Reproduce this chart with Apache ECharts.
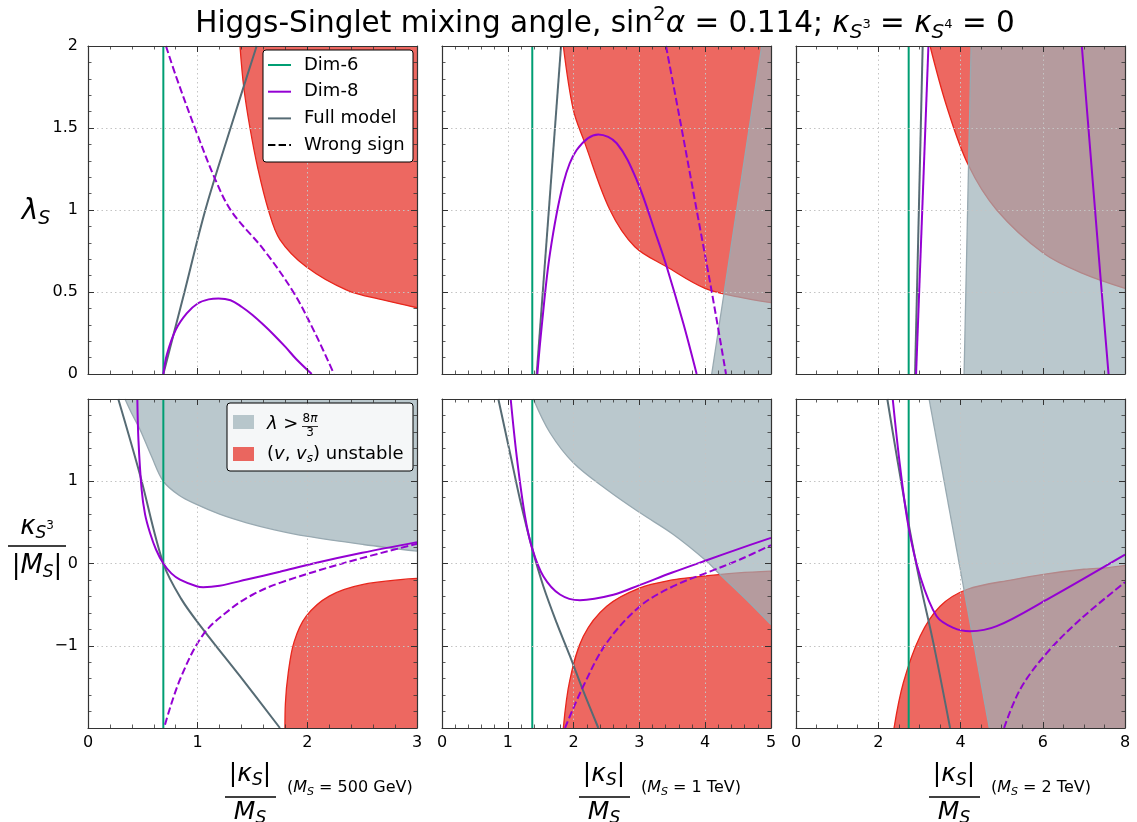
<!DOCTYPE html>
<html><head><meta charset="utf-8">
<script src="https://cdn.jsdelivr.net/npm/echarts@6/dist/echarts.min.js"></script>
<style>html,body{margin:0;padding:0;background:#fff}#c{width:1137px;height:822px}</style>
</head><body><div id="c"></div><script>
// ---------------- DATA ----------------
// x-axis ranges per column: [min, max, interval, minorSplit]
const xRanges = [[0, 3, 1, 5], [0, 5, 1, 5], [0, 8, 2, 4]];
// y-axis ranges per row
const yRanges = [[0, 2, 0.5, 5], [-2, 2, 1, 5]];
const columnMass = ['500 GeV', '1 TeV', '2 TeV'];
// Dim-6 vertical line position per column
const dim6X = [0.687, 1.372, 2.74];

// --- top row (lambda_S) ---
const t1_full = [[0.687,0],[0.88,0.5],[1.07,1.0],[1.30,1.5],[1.538,2]];
const t1_dim8 = [[0.687,0],[0.72,0.12],[0.8,0.27],[0.9,0.37],[1.0,0.43],[1.1,0.455],[1.19,0.461],[1.3,0.45],[1.4,0.41],[1.5,0.36],[1.6,0.30],[1.7,0.235],[1.8,0.165],[1.9,0.09],[2.04,0]];
const t1_dim8Wrong = [[0.711,2],[0.80,1.82],[0.975,1.5],[1.158,1.19],[1.31,0.99],[1.6,0.76],[1.872,0.5],[2.07,0.25],[2.243,0]];
const t1_unstable = [[1.386,2],[1.42,1.75],[1.477,1.5],[1.55,1.25],[1.645,1.0],[1.75,0.82],[1.99,0.654],[2.36,0.512],[2.7,0.45],[3.0,0.404]];

const t2_full = [[1.439,0],[1.809,2]];
const t2_dim8 = [[1.449,0],[1.515,0.289],[1.641,0.736],[1.844,1.163],[2.047,1.366],[2.376,1.461],[2.655,1.407],[2.959,1.183],[3.263,0.837],[3.415,0.654],[3.667,0.309],[3.87,0]];
const t2_dim8Wrong = [[3.404,2],[3.64,1.5],[3.87,1.0],[4.10,0.5],[4.316,0]];
const t2_unstable = [[1.844,2],[1.996,1.61],[2.163,1.417],[2.553,1.0],[2.93,0.776],[3.415,0.654],[3.997,0.522],[4.5,0.47],[5.0,0.435]];
const t2_pert = [[4.099,0],[4.858,2]];

const t3_full = [[2.895,0],[3.08,2]];
const t3_dim8a = [[2.92,0],[3.22,2]];
const t3_dim8b = [[6.95,2],[7.41,0.573],[7.60,0]];
const t3_unstable = [[3.26,2],[3.667,1.63],[4.19,1.274],[4.88,1.0],[6.02,0.736],[7.0,0.61],[8.0,0.522]];
const t3_pert = [[4.087,0],[4.258,2]];

// --- bottom row (kappa_S3 / |M_S|) ---
const b1_pert = [[0.337,2],[0.40,1.82],[0.474,1.63],[0.58,1.3],[0.687,1.0],[0.83,0.83],[0.99,0.718],[1.2,0.6],[1.447,0.495],[1.7,0.41],[1.99,0.332],[2.51,0.231],[3.0,0.15]];
const b1_unstable = [[1.796,-2],[1.80,-1.7],[1.826,-1.33],[1.88,-0.95],[1.99,-0.641],[2.2,-0.397],[2.51,-0.255],[3.0,-0.182]];
const b1_full = [[0.276,2],[0.474,1.08],[0.687,0],[0.85,-0.43],[1.051,-0.803],[1.386,-1.37],[1.75,-2]];
const b1_dim8 = [[0.45,2],[0.46,1.5],[0.489,0.9],[0.52,0.6],[0.565,0.373],[0.62,0.17],[0.687,0],[0.76,-0.12],[0.839,-0.195],[0.99,-0.276],[1.05,-0.288],[1.2,-0.27],[1.447,-0.195],[1.75,-0.1],[2.054,0],[2.5,0.13],[3.0,0.26]];
const b1_dim8Wrong = [[0.702,-1.96],[0.839,-1.41],[1.05,-0.864],[1.294,-0.56],[1.5,-0.38],[1.75,-0.235],[2.34,0.008],[3.0,0.24]];

const b2_pert = [[1.388,2],[1.641,1.59],[1.996,1.225],[2.503,0.9],[3.01,0.616],[3.516,0.353],[4.022,0.028],[4.225,-0.134],[4.6,-0.42],[5.0,-0.742]];
const b2_unstable = [[1.844,-2],[1.945,-1.41],[2.148,-0.884],[2.503,-0.519],[3.01,-0.296],[3.5,-0.2],[3.87,-0.162],[4.5,-0.115],[5.0,-0.093]];
const b2_full = [[0.856,2],[1.033,1.346],[1.185,0.779],[1.372,0.178],[1.54,-0.276],[1.743,-0.722],[1.945,-1.127],[2.148,-1.553],[2.376,-2]];
const b2_dim8 = [[1.044,2],[1.135,1.306],[1.261,0.576],[1.372,0.178],[1.54,-0.154],[1.793,-0.377],[2.097,-0.446],[2.604,-0.38],[3.01,-0.26],[3.5,-0.11],[4.022,0.04],[4.5,0.175],[5.0,0.312]];
const b2_dim8Wrong = [[1.869,-2],[2.148,-1.49],[2.503,-0.965],[3.01,-0.519],[3.516,-0.276],[4.022,-0.113],[4.529,0.049],[5.0,0.223]];

const b3_pert = [[3.236,2],[4.70,-2]];
const b3_unstable = [[2.384,-2],[2.61,-1.45],[3.017,-0.884],[3.504,-0.519],[4.153,-0.316],[5.29,-0.195],[6.1,-0.126],[7.0,-0.07],[7.6,-0.05],[8.0,-0.024]];
const b3_full = [[2.22,2],[2.45,1.306],[2.733,0.495],[3.017,-0.235],[3.34,-0.965],[3.747,-2]];
const b3_dim8 = [[2.352,2],[2.53,1.184],[2.733,0.454],[3.017,-0.154],[3.42,-0.641],[3.83,-0.783],[4.23,-0.823],[4.88,-0.762],[6.1,-0.438],[8.0,0.109]];
const b3_dim8Wrong = [[5.06,-2],[5.45,-1.53],[6.1,-1.087],[6.91,-0.681],[8.0,-0.227]];

// ---------------- STYLE ----------------
const C_DIM6 = '#009e73', C_DIM8 = '#9400d3', C_FULL = '#566b74';
const C_RED = 'rgba(230,40,30,0.7)', C_RED_EDGE = '#e8261c';
const C_GRAY = 'rgba(157,176,184,0.7)', C_GRAY_EDGE = '#98a9b1';
const FONT = 'DejaVu Sans';
const DASH = [7.4, 3.2];
const SMOOTH = 0.35;

const COL_LEFT = [88, 442, 796], PW = 329;
const ROW = [[46, 328], [399, 329]];

const grid = [], xAxis = [], yAxis = [];
const minus = v => String(v).replace('-', '\u2212');
function axisCommon(pos, split) {
  return {
    type: 'value', position: pos, z: 10,
    axisLine: {show: true, onZero: false, lineStyle: {color: '#333', width: 1.2}},
    axisTick: {show: true, inside: true, length: 6, lineStyle: {color: '#333', width: 1}},
    minorTick: {show: true, splitNumber: split, length: 3.5, lineStyle: {color: '#333', width: 0.8}},
  };
}
for (let r = 0; r < 2; r++) for (let c = 0; c < 3; c++) {
  grid.push({left: COL_LEFT[c], top: ROW[r][0], width: PW, height: ROW[r][1]});
}
for (let gi = 0; gi < 6; gi++) {
  const r = Math.floor(gi / 3), c = gi % 3;
  const xr = xRanges[c], yr = yRanges[r];
  xAxis.push(Object.assign(axisCommon('bottom', xr[3]), {
    gridIndex: gi, min: xr[0], max: xr[1], interval: xr[2],
    splitLine: {show: true, lineStyle: {type: [1.5, 3], color: '#c4c4c4', width: 1}},
    axisLabel: {show: r === 1, fontSize: 16, fontFamily: FONT, color: '#000', margin: 7, formatter: minus}
  }));
  yAxis.push(Object.assign(axisCommon('left', yr[3]), {
    gridIndex: gi, min: yr[0], max: yr[1], interval: yr[2],
    splitLine: {show: true, lineStyle: {type: [1.5, 3], color: '#c4c4c4', width: 1}},
    axisLabel: {show: c === 0, fontSize: 16, fontFamily: FONT, color: '#000', margin: 10,
      formatter: v => (r === 1 && Math.abs(v) === 2) ? '' : minus(v)}
  }));
}
for (let gi = 0; gi < 6; gi++) {
  const r = Math.floor(gi / 3), c = gi % 3;
  const xr = xRanges[c], yr = yRanges[r];
  xAxis.push(Object.assign(axisCommon('top', xr[3]), {
    gridIndex: gi, min: xr[0], max: xr[1], interval: xr[2], splitLine: {show: false}, axisLabel: {show: false}
  }));
  yAxis.push(Object.assign(axisCommon('right', yr[3]), {
    gridIndex: gi, min: yr[0], max: yr[1], interval: yr[2], splitLine: {show: false}, axisLabel: {show: false}
  }));
}

function lineS(name, data, gi, color, opt) {
  opt = opt || {};
  return {type: 'line', name, data, xAxisIndex: gi, yAxisIndex: gi, symbol: 'none', showSymbol: false,
    smooth: opt.smooth === undefined ? SMOOTH : opt.smooth, clip: true, silent: true, animation: false,
    lineStyle: {color, width: opt.width || 2, type: opt.dashed ? DASH : 'solid'}, z: opt.z || 5};
}
function areaS(name, data, gi, fill, origin, smooth, z) {
  return {type: 'line', name, data, xAxisIndex: gi, yAxisIndex: gi, symbol: 'none', showSymbol: false,
    smooth, clip: true, silent: true, animation: false, z,
    lineStyle: {width: 0, opacity: 0},
    areaStyle: {color: fill, opacity: 1, origin}};
}
const series = [];
// regions: [grid, unstable boundary, origin, pert boundary, extra pert points, origin, pert smooth]
const regions = [
  [0, t1_unstable, 'end', null],
  [1, t2_unstable, 'end', t2_pert, [[5, 2]], 'start', false],
  [2, t3_unstable, 'end', t3_pert, [[8, 2]], 'start', false],
  [3, b1_unstable, 'start', b1_pert, [], 'end', SMOOTH],
  [4, b2_unstable, 'start', b2_pert, [], 'end', SMOOTH],
  [5, b3_unstable, 'start', b3_pert, [[8, -2]], 'end', false],
];
regions.forEach(([gi, ub, uo, pb, pext, po, ps]) => {
  series.push(areaS('(v, v_s) unstable', ub, gi, C_RED, uo, SMOOTH, 1));
  series.push(lineS('unstable edge', ub, gi, C_RED_EDGE, {width: 1.3, z: 1}));
  if (pb) {
    series.push(areaS('λ > 8π/3', pb.concat(pext), gi, C_GRAY, po, ps, 2));
    series.push(lineS('pert edge', pb, gi, C_GRAY_EDGE, {width: 1.3, z: 2, smooth: ps}));
  }
});
for (let gi = 0; gi < 6; gi++) {
  const r = Math.floor(gi / 3), c = gi % 3;
  series.push(lineS('Dim-6', [[dim6X[c], yRanges[r][0]], [dim6X[c], yRanges[r][1]]], gi, C_DIM6, {smooth: false}));
}
const fulls = [t1_full, t2_full, t3_full, b1_full, b2_full, b3_full];
fulls.forEach((d, gi) => series.push(lineS('Full model', d, gi, C_FULL)));
const dim8s = [[t1_dim8], [t2_dim8], [t3_dim8a, t3_dim8b], [b1_dim8], [b2_dim8], [b3_dim8]];
dim8s.forEach((arr, gi) => arr.forEach(d => series.push(lineS('Dim-8', d, gi, C_DIM8, {z: 6}))));
const wrongs = [[0, t1_dim8Wrong], [1, t2_dim8Wrong], [3, b1_dim8Wrong], [4, b2_dim8Wrong], [5, b3_dim8Wrong]];
wrongs.forEach(([gi, d]) => series.push(lineS('Dim-8 (wrong sign)', d, gi, C_DIM8, {dashed: true, z: 6})));

// ---------------- TEXT / LEGENDS (graphic) ----------------
function txt(x, y, text, size, rich, align, extra) {
  return {type: 'text', x, y, z: 50, silent: true, style: Object.assign({
    text, fontSize: size, fontFamily: FONT, fill: '#000',
    align: align || 'left', textAlign: align || 'left', verticalAlign: 'middle', textVerticalAlign: 'middle',
    rich: rich || {}
  }, extra || {})};
}
function hline(x1, x2, y, w, color) {
  return {type: 'line', z: 50, silent: true, shape: {x1, y1: y, x2, y2: y}, style: {stroke: color || '#000', lineWidth: w || 1.2}};
}
const graphic = [];
// title
graphic.push(txt(605, 24,
  'Higgs-Singlet mixing angle, sin{sup|2}{i|α} = 0.114; {i|κ}{sub|S}{ssup|3} = {i|κ}{sub|S}{ssup|4} = 0', 29.5, {
    i: {fontStyle: 'italic', fontSize: 29.5, fontFamily: FONT, lineHeight: 38},
    sup: {fontSize: 20, fontFamily: FONT, verticalAlign: 'top', lineHeight: 23},
    sub: {fontSize: 20, fontStyle: 'italic', fontFamily: FONT, verticalAlign: 'bottom', lineHeight: 23},
    ssup: {fontSize: 13, fontFamily: FONT, verticalAlign: 'bottom', lineHeight: 15, padding: [0, 0, 12, 0]}
  }, 'center', {lineHeight: 38}));
// y labels
graphic.push(txt(36, 212, '{i|λ}{sub|S}', 28, {
  i: {fontStyle: 'italic', fontSize: 28, fontFamily: FONT, lineHeight: 34},
  sub: {fontSize: 19, fontStyle: 'italic', fontFamily: FONT, verticalAlign: 'bottom', lineHeight: 22}
}, 'center', {lineHeight: 34}));
graphic.push(txt(37, 527, '{i|κ}{sub|S}{ssup|3}', 26, {
  i: {fontStyle: 'italic', fontSize: 26, fontFamily: FONT, lineHeight: 30},
  sub: {fontSize: 17, fontStyle: 'italic', fontFamily: FONT, verticalAlign: 'bottom', lineHeight: 19},
  ssup: {fontSize: 12, fontFamily: FONT, verticalAlign: 'bottom', lineHeight: 13, padding: [0, 0, 10, 0]}
}, 'center', {lineHeight: 30}));
graphic.push(hline(8, 66, 546, 1.3));
graphic.push(txt(37, 566, '|{i|M}{sub|S}|', 26, {
  i: {fontStyle: 'italic', fontSize: 26, fontFamily: FONT, lineHeight: 30},
  sub: {fontSize: 17, fontStyle: 'italic', fontFamily: FONT, verticalAlign: 'bottom', lineHeight: 19}
}, 'center', {lineHeight: 30}));
// x labels
const fracCenters = [250, 604, 954];
fracCenters.forEach((cx, c) => {
  graphic.push(txt(cx, 774, '|{i|κ}{sub|S}|', 25, {
    i: {fontStyle: 'italic', fontSize: 25, fontFamily: FONT, lineHeight: 30},
    sub: {fontSize: 17, fontStyle: 'italic', fontFamily: FONT, verticalAlign: 'bottom', lineHeight: 19}
  }, 'center', {lineHeight: 30}));
  graphic.push(hline(cx - 25, cx + 26, 797, 1.3));
  graphic.push(txt(cx, 812, '{i|M}{sub|S}', 25, {
    i: {fontStyle: 'italic', fontSize: 25, fontFamily: FONT, lineHeight: 30},
    sub: {fontSize: 17, fontStyle: 'italic', fontFamily: FONT, verticalAlign: 'bottom', lineHeight: 19}
  }, 'center', {lineHeight: 30}));
  graphic.push(txt(cx + 37, 788, '({i|M}{sub|S} = ' + columnMass[c] + ')', 16, {
    i: {fontStyle: 'italic', fontSize: 16, fontFamily: FONT, lineHeight: 20},
    sub: {fontSize: 11, fontStyle: 'italic', fontFamily: FONT, verticalAlign: 'bottom', lineHeight: 12}
  }, 'left', {lineHeight: 20}));
});
// legend 1 (top-left panel)
graphic.push({type: 'rect', z: 40, silent: true, shape: {x: 263, y: 50, width: 150, height: 112, r: 3},
  style: {fill: '#fff', stroke: '#000', lineWidth: 1}});
const leg1 = [['Dim-6', C_DIM6, false], ['Dim-8', C_DIM8, false], ['Full model', C_FULL, false], ['Wrong sign', '#000', true]];
leg1.forEach(([name, col, dash], k) => {
  const y = 65 + k * 26.7;
  graphic.push({type: 'line', z: 50, silent: true, shape: {x1: 268, y1: y, x2: 291, y2: y},
    style: {stroke: col, lineWidth: 2, lineDash: dash ? DASH : null}});
  graphic.push(txt(304, y, name, 18));
});
// legend 2 (bottom-left panel)
graphic.push({type: 'rect', z: 40, silent: true, shape: {x: 227, y: 403, width: 186, height: 68, r: 3},
  style: {fill: 'rgba(255,255,255,0.85)', stroke: '#000', lineWidth: 1}});
graphic.push({type: 'rect', z: 50, silent: true, shape: {x: 233, y: 415, width: 21, height: 14}, style: {fill: C_GRAY}});
graphic.push({type: 'rect', z: 50, silent: true, shape: {x: 233, y: 447, width: 21, height: 14}, style: {fill: C_RED}});
graphic.push(txt(267, 424, '{i|λ} >', 18, {i: {fontStyle: 'italic', fontSize: 18, fontFamily: FONT}}));
graphic.push(txt(310, 419, '8{i|π}', 12, {i: {fontStyle: 'italic', fontSize: 12, fontFamily: FONT}}, 'center'));
graphic.push(hline(302, 318, 426.5, 0.8));
graphic.push(txt(310, 433, '3', 12, null, 'center'));
graphic.push(txt(267, 454, '({i|v}, {i|v}{sub|s}) unstable', 18, {
  i: {fontStyle: 'italic', fontSize: 18, fontFamily: FONT, lineHeight: 22},
  sub: {fontSize: 12, fontStyle: 'italic', fontFamily: FONT, verticalAlign: 'bottom', lineHeight: 14}
}, 'left', {lineHeight: 22}));

const chart = echarts.init(document.getElementById('c'), null, {renderer: 'canvas'});
chart.setOption({animation: false, backgroundColor: '#fff', grid, xAxis, yAxis, series, graphic});
</script></body></html>
